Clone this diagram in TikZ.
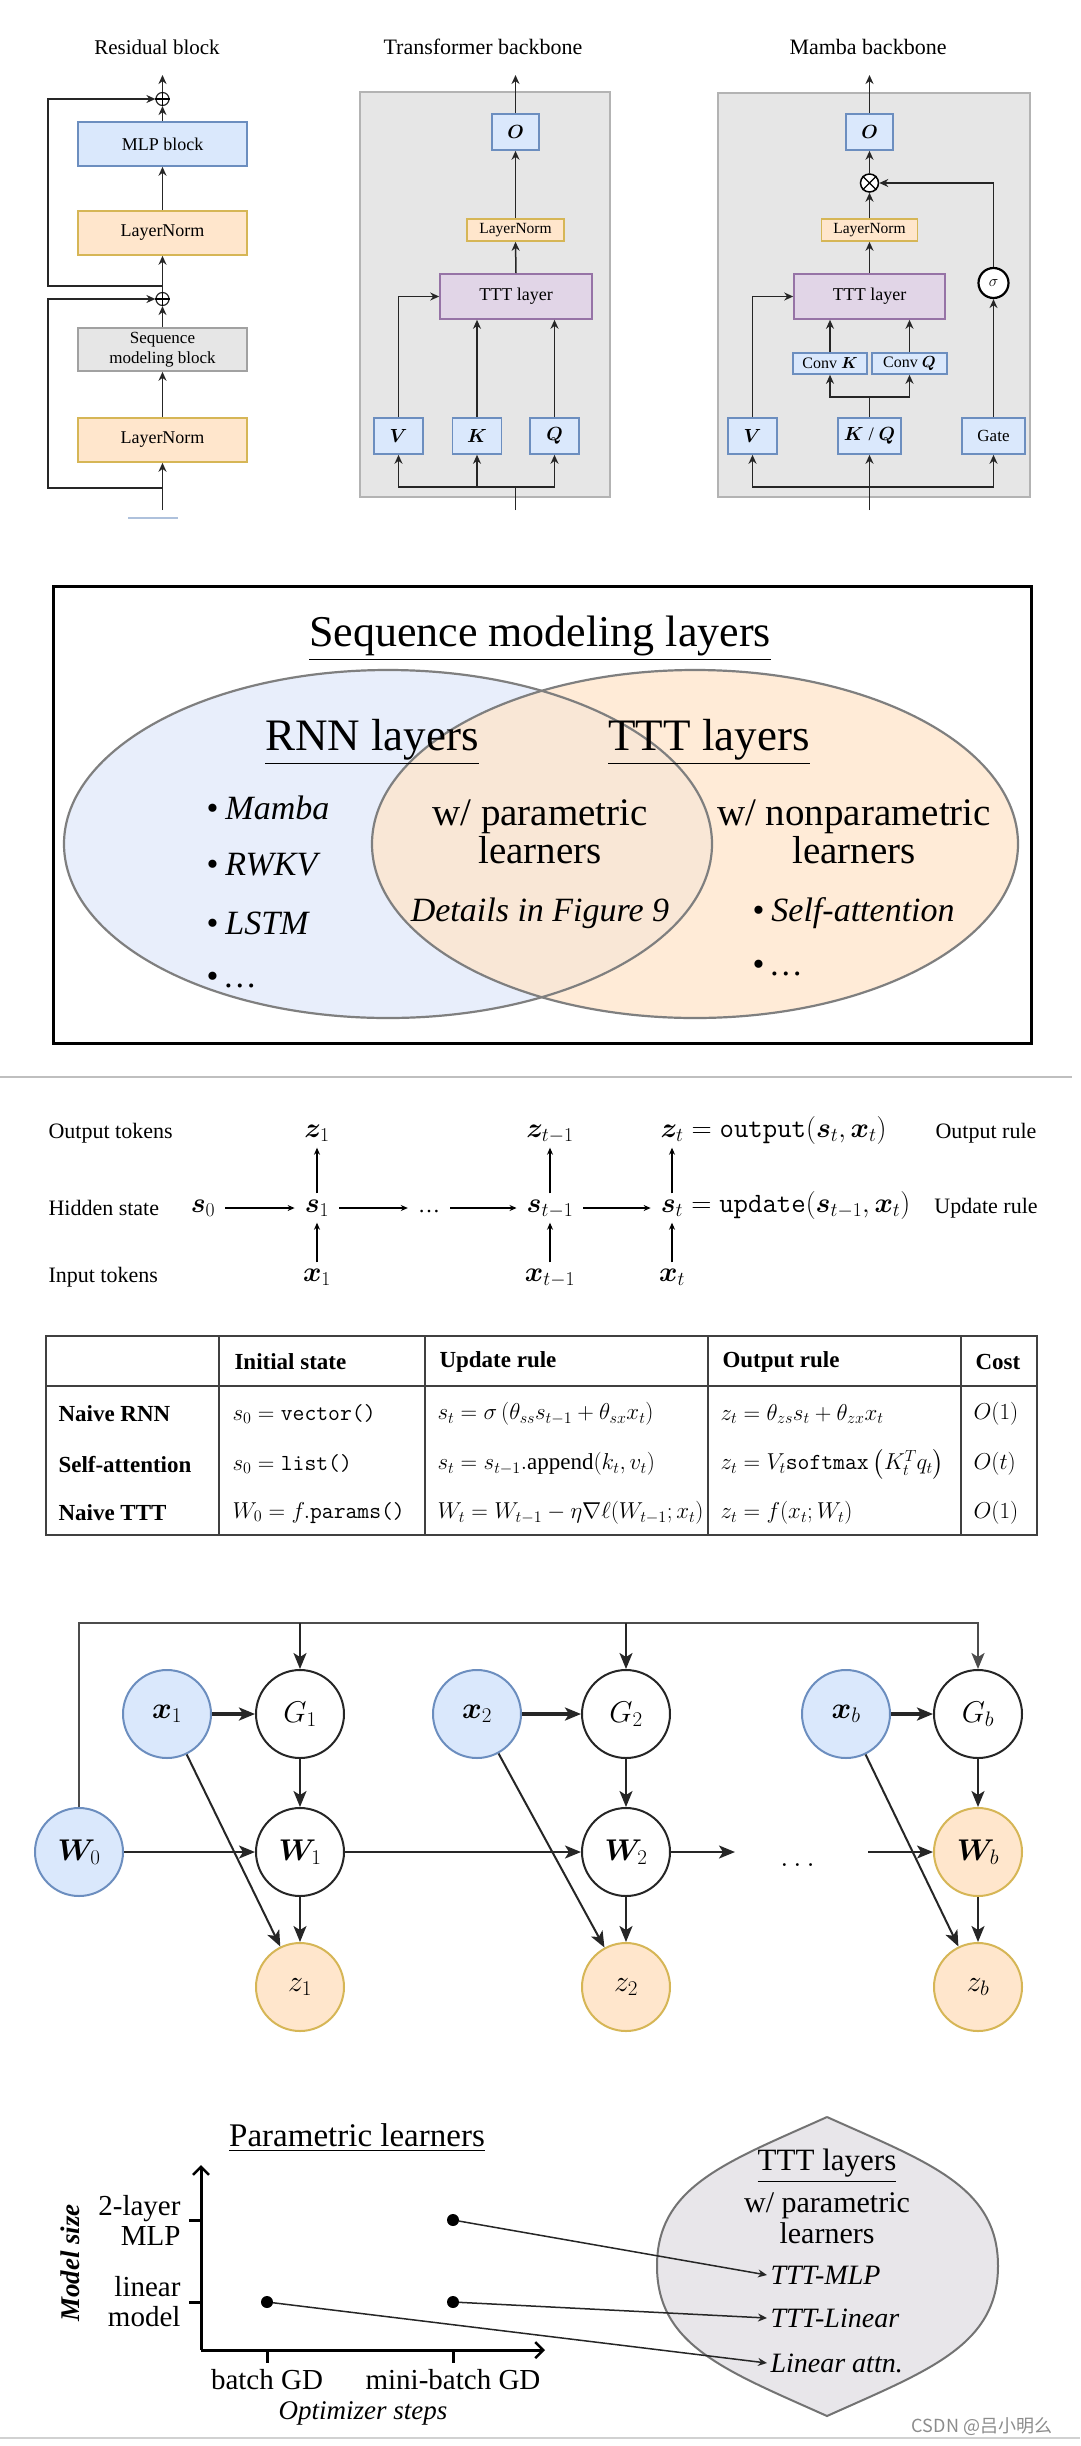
\RequirePackage{fix-cm}
\documentclass[tikz,border=0pt]{standalone}
\usepackage{amsmath}
\usepackage{bm}
\usepackage{fontspec}
\setmainfont{Liberation Serif}
\newfontfamily\cjkfont{Noto Sans CJK SC}
\usetikzlibrary{arrows.meta,calc}
\definecolor{bfill}{HTML}{DAE8FC}
\definecolor{bdraw}{HTML}{6C8EBF}
\definecolor{ofill}{HTML}{FFE6CC}
\definecolor{odraw}{HTML}{D6B656}
\definecolor{pfill}{HTML}{E1D5E7}
\definecolor{pdraw}{HTML}{9673A6}
\definecolor{gfill}{HTML}{E6E6E6}
\definecolor{gdraw}{HTML}{B3B3B3}
\definecolor{lensfill}{HTML}{E8E6EA}
\definecolor{vblue}{HTML}{E8EEFB}
\definecolor{vline}{HTML}{7F7F7F}
\newcommand{\fsz}[2]{\fontsize{#1}{#2}\selectfont}
\tikzset{
  myln/.style={line width=1.5pt, draw=black!85},
  myar/.style={myln, -{Stealth[length=9pt,width=8pt]}},
  mybox/.style={draw, line width=1.6pt, inner sep=0pt, align=center},
  myblue/.style={mybox, fill=bfill, draw=bdraw},
  myorange/.style={mybox, fill=ofill, draw=odraw},
  mygray/.style={mybox, fill=gfill, draw=gdraw!90!black},
  mypurple/.style={mybox, fill=pfill, draw=pdraw},
  panel/.style={draw=gdraw, fill=gfill, line width=1.5pt, inner sep=0pt},
  vtxt/.style={font=\fsz{39}{38}, align=center},
  sar/.style={line width=1.2pt, draw=black, -{Stealth[length=7pt,width=6pt]}},
  mth/.style={font=\fsz{28}{32}, text height=14pt, text depth=5pt, inner xsep=10pt, inner ysep=5pt},
  lbl/.style={font=\fsz{22}{26}},
  tabline/.style={line width=1.5pt, draw=black!75},
  thd/.style={font=\fsz{23}{27}\bfseries, anchor=west},
  tcell/.style={font=\fsz{23}{27}, anchor=west},
  gnode/.style={circle, draw=black!85, fill=white, line width=2pt, minimum size=88pt, inner sep=0pt, font=\fsz{30}{36}},
  gblue/.style={gnode, fill=bfill, draw=bdraw},
  gorange/.style={gnode, fill=ofill, draw=odraw},
  gar/.style={line width=2pt, draw=black!85, -{Stealth[length=16pt,width=13pt,inset=4pt]}},
  dotnode/.style={circle, fill=black, inner sep=0pt, minimum size=12pt},
  plar/.style={line width=1.5pt, draw=black!85, -{Stealth[length=9pt,width=8pt]}},
  axar/.style={line width=3pt, draw=black, -{Straight Barb[length=8pt,width=16pt,line width=2.5pt]}},
  btxt/.style={font=\fsz{29}{30}},
}
\begin{document}
\begin{tikzpicture}[x=1pt,y=-1pt]
\useasboundingbox (0,0) rectangle (1080,2446);
\fill[white] (0,0) rectangle (1080,2446);

%%%%%%%%%%%%%%%% Residual block
\node[font=\fsz{21}{25}] (rtitle) at (157,47) {Residual block};
\node[myblue, minimum width=169pt, minimum height=44pt, font=\fsz{18}{21}] (mlp) at (162.5,144) {MLP block};
\node[myorange, minimum width=169pt, minimum height=44pt, font=\fsz{18}{21}] (ln1) at (162.5,233) {LayerNorm};
\node[mygray, minimum width=169pt, minimum height=43pt, font=\fsz{17}{20}] (smb) at (162.5,349.5) {Sequence\\modeling block};
\node[myorange, minimum width=169pt, minimum height=44pt, font=\fsz{18}{21}] (ln2) at (162.5,440) {LayerNorm};
\node[circle, draw=black!85, line width=1.2pt, minimum size=13pt, inner sep=0pt] (p1) at (162.5,99) {};
\draw[line width=1.2pt] (p1.north) -- (p1.south) (p1.west) -- (p1.east);
\node[circle, draw=black!85, line width=1.2pt, minimum size=13pt, inner sep=0pt] (p2) at (162.5,299) {};
\draw[line width=1.2pt] (p2.north) -- (p2.south) (p2.west) -- (p2.east);
\coordinate (rtop) at (162.5,75);
\coordinate (rin) at (162.5,510);
\coordinate (rj1) at (162.5,286);
\coordinate (rj2) at (162.5,488);
\draw[myar] (p1.north) -- (rtop);
\draw[myar] (mlp.north) -- (p1.south);
\draw[myar] (ln1.north) -- (mlp.south);
\draw[myar] (p2.north) -- (ln1.south);
\draw[myar] (smb.north) -- (p2.south);
\draw[myar] (ln2.north) -- (smb.south);
\draw[myar] (rin) -- (ln2.south);
\draw[myar] (rj1) -- ++(-114.5,0) |- (p1.west);
\draw[myar] (rj2) -- ++(-114.5,0) |- (p2.west);
\draw[bdraw!55, line width=2pt] (128,518) -- (178,518);

%%%%%%%%%%%%%%%% Transformer backbone
\node[font=\fsz{22}{26}] (ttitle) at (483,47) {Transformer backbone};
\node[panel, minimum width=250pt, minimum height=405pt] (tbg) at (485,294.5) {};
\node[myblue, minimum width=47pt, minimum height=36pt, font=\fsz{19}{22}] (tO) at (515.5,132) {$\bm{O}$};
\node[myorange, minimum width=97pt, minimum height=22pt, font=\fsz{15.5}{18}] (tln) at (515.5,230) {LayerNorm};
\node[mypurple, minimum width=152pt, minimum height=45pt, font=\fsz{18}{21}] (tttt) at (516,296.5) {TTT layer};
\node[myblue, minimum width=49pt, minimum height=36pt, font=\fsz{19}{22}] (tV) at (398.5,436) {$\bm{V}$};
\node[myblue, minimum width=49pt, minimum height=36pt, font=\fsz{19}{22}] (tK) at (477,436) {$\bm{K}$};
\node[myblue, minimum width=49pt, minimum height=36pt, font=\fsz{19}{22}] (tQ) at (554.5,436) {$\bm{Q}$};
\coordinate (ttop) at (515.5,75);
\coordinate (tin) at (515.5,510);
\coordinate (tbus) at (515.5,487);
\draw[myar] (tO.north) -- (ttop);
\draw[myar] (tln.north) -- (tO.south);
\draw[myar] (tttt.north) -- (tln.south);
\draw[myar] (tV.north) |- (tttt.west);
\draw[myar] (tK.north) -- (tK.north |- tttt.south);
\draw[myar] (tQ.north) -- (tQ.north |- tttt.south);
\draw[myln] (tin) -- (tbus);
\draw[myar] (tbus) -| (tV.south);
\draw[myar] (tbus) -| (tQ.south);
\draw[myar] (tK.south |- tbus) -- (tK.south);

%%%%%%%%%%%%%%%% Mamba backbone
\node[font=\fsz{22}{26}] (mtitle) at (868,47) {Mamba backbone};
\node[panel, minimum width=312pt, minimum height=404pt] (mbg) at (874,295) {};
\node[myblue, minimum width=47pt, minimum height=36pt, font=\fsz{19}{22}] (mO) at (869.5,132) {$\bm{O}$};
\node[circle, draw=black, fill=white, line width=1.5pt, minimum size=18pt, inner sep=0pt] (mot) at (869.5,183) {};
\draw[line width=1.3pt] (mot.north west) -- (mot.south east) (mot.north east) -- (mot.south west);
\node[myorange, minimum width=96pt, minimum height=22pt, font=\fsz{15.5}{18}] (mln) at (869.5,230) {LayerNorm};
\node[mypurple, minimum width=151pt, minimum height=45pt, font=\fsz{18}{21}] (mttt) at (869.5,296.5) {TTT layer};
\node[circle, draw=black, fill=white, line width=2.2pt, minimum size=30pt, inner sep=0pt, font=\fsz{16}{18}] (msig) at (993.5,283) {$\sigma$};
\node[myblue, minimum width=74pt, minimum height=21pt, font=\fsz{16}{18}] (mck) at (830,363.5) {Conv $\bm{K}$};
\node[myblue, minimum width=75pt, minimum height=21pt, font=\fsz{16}{18}] (mcq) at (909.5,363.5) {Conv $\bm{Q}$};
\node[myblue, minimum width=49pt, minimum height=36pt, font=\fsz{19}{22}] (mV) at (752.5,436) {$\bm{V}$};
\node[myblue, minimum width=63pt, minimum height=36pt, font=\fsz{19}{22}] (mKQ) at (869.5,436) {$\bm{K}$ / $\bm{Q}$};
\node[myblue, minimum width=63pt, minimum height=36pt, font=\fsz{17}{20}] (mgate) at (993.5,436) {Gate};
\coordinate (mtop) at (869.5,75);
\coordinate (min) at (869.5,510);
\coordinate (mbus) at (869.5,487);
\coordinate (mkqs) at (869.5,397);
\draw[myar] (mO.north) -- (mtop);
\draw[myar] (mot.north) -- (mO.south);
\draw[myar] (mln.north) -- (mot.south);
\draw[myar] (mttt.north) -- (mln.south);
\draw[myar] (msig.north) |- (mot.east);
\draw[myar] (mgate.north) -- (msig.south);
\draw[myar] (mV.north) |- (mttt.west);
\draw[myar] (mck.north) -- (mck.north |- mttt.south);
\draw[myar] (mcq.north) -- (mcq.north |- mttt.south);
\draw[myln] (mKQ.north) -- (mkqs);
\draw[myar] (mkqs) -| (mck.south);
\draw[myar] (mkqs) -| (mcq.south);
\draw[myar] (min) -- (mKQ.south);
\draw[myar] (mbus) -| (mV.south);
\draw[myar] (mbus) -| (mgate.south);

%%%%%%%%%%%%%%%% Venn diagram
\node[draw=black, line width=3pt, minimum width=978pt, minimum height=457pt, inner sep=0pt] (vbox) at (542,814.5) {};
\fill[vblue] (388,844) ellipse [x radius=324pt, y radius=174pt];
\fill[ofill, fill opacity=0.78] (695,844) ellipse [x radius=323pt, y radius=174pt];
\draw[vline, line width=2.2pt] (388,844) ellipse [x radius=324pt, y radius=174pt];
\draw[vline, line width=2.2pt] (695,844) ellipse [x radius=323pt, y radius=174pt];
\node[font=\fsz{44}{50}] (vtitle) at (540,638) {\underline{Sequence modeling layers}};
\node[font=\fsz{45}{50}] (vrnn) at (372,742) {\underline{RNN layers}};
\node[font=\fsz{45}{50}] (vttt) at (709,742) {\underline{TTT layers}};
\node[font=\fsz{34}{40}, anchor=west] (vb1) at (203,808) {\textbullet\hspace{7pt}\textit{Mamba}};
\node[font=\fsz{34}{40}, anchor=west] (vb2) at (203,865) {\textbullet\hspace{7pt}\textit{RWKV}};
\node[font=\fsz{34}{40}, anchor=west] (vb3) at (203,923) {\textbullet\hspace{7pt}\textit{LSTM}};
\node[font=\fsz{34}{40}, anchor=west] (vb4) at (203,980) {\textbullet\hspace{7pt}\textit{\dots}};
\node[vtxt] (vpar) at (540,832) {w/ parametric\\learners};
\node[font=\fsz{34}{40}] (vdet) at (540,913) {\textit{Details in Figure 9}};
\node[vtxt] (vnon) at (854,832) {w/ nonparametric\\learners};
\node[font=\fsz{34}{40}, anchor=west] (vsa) at (749,913) {\textbullet\hspace{7pt}\textit{Self-attention}};
\node[font=\fsz{34}{40}, anchor=west] (vsd) at (749,968) {\textbullet\hspace{7pt}\textit{\dots}};

\draw[black!25, line width=1.5pt] (0,1077) -- (1072,1077);

%%%%%%%%%%%%%%%% Hidden state recurrence
\node[lbl, anchor=west] (lout) at (45,1133) {Output tokens};
\node[lbl, anchor=west] (lhid) at (45,1208) {Hidden state};
\node[lbl, anchor=west] (linp) at (45,1277) {Input tokens};
\node[lbl] (rout) at (986,1133) {Output rule};
\node[lbl] (rupd) at (986,1208) {Update rule};
\node[mth] (z1) at (317,1133) {$\bm{z}_1$};
\node[mth] (zt1) at (550,1133) {$\bm{z}_{t-1}$};
\node[mth, inner xsep=0pt] (zt) at (672,1133) {$\bm{z}_t$};
\node[mth, inner xsep=0pt, anchor=base west] (ztr) at (zt.base east) {$\;=\texttt{output}(\bm{s}_t,\bm{x}_t)$};
\node[mth] (s0) at (203,1208) {$\bm{s}_0$};
\node[mth] (s1) at (317,1208) {$\bm{s}_1$};
\node[mth, font=\fsz{22}{26}] (sd) at (429,1208) {\dots};
\node[mth] (st1) at (550,1208) {$\bm{s}_{t-1}$};
\node[mth, inner xsep=0pt] (st) at (672,1208) {$\bm{s}_t$};
\node[mth, inner xsep=0pt, anchor=base west] (str) at (st.base east) {$\;=\texttt{update}(\bm{s}_{t-1},\bm{x}_t)$};
\node[mth] (x1) at (317,1277) {$\bm{x}_1$};
\node[mth] (xt1) at (550,1277) {$\bm{x}_{t-1}$};
\node[mth, inner xsep=0pt] (xt) at (672,1277) {$\bm{x}_t$};
\draw[sar] (s0.east) -- (s1.west);
\draw[sar] (s1.east) -- (sd.west);
\draw[sar] (sd.east) -- (st1.west);
\draw[sar] (st1.east) -- ([xshift=-10pt]st.west);
\draw[sar] (x1.north) -- (s1.south);
\draw[sar] (xt1.north) -- (st1.south);
\draw[sar] (xt.north) -- (st.south);
\draw[sar] (s1.north) -- (z1.south);
\draw[sar] (st1.north) -- (zt1.south);
\draw[sar] (st.north) -- (zt.south);

%%%%%%%%%%%%%%%% Table
\node[draw=black!75, line width=1.8pt, minimum width=991pt, minimum height=199pt, inner sep=0pt] (tab) at (541.5,1435.5) {};
\draw[tabline] (46,1386) -- (1037,1386);
\foreach \cx in {219,425,708,961} {\draw[tabline] (\cx,1336) -- (\cx,1535);}
\node[thd] (h1) at (231,1362) {Initial state};
\node[thd] (h2) at (436,1362) {Update rule};
\node[thd] (h3) at (719,1362) {Output rule};
\node[thd] (h4) at (972,1362) {Cost};
\node[thd] (r1) at (55,1414) {Naive RNN};
\node[thd] (r2) at (55,1464) {Self-attention};
\node[thd] (r3) at (55,1513) {Naive TTT};
\node[tcell] (c11) at (229,1414) {$s_0 = \texttt{vector()}$};
\node[tcell] (c12) at (434,1414) {$s_t = \sigma\,(\theta_{ss}s_{t-1} + \theta_{sx}x_t)$};
\node[tcell] (c13) at (717,1414) {$z_t = \theta_{zs}s_t + \theta_{zx}x_t$};
\node[tcell] (c14) at (970,1414) {$O(1)$};
\node[tcell] (c21) at (229,1464) {$s_0 = \texttt{list()}$};
\node[tcell] (c22) at (434,1464) {$s_t = s_{t-1}.\mathrm{append}(k_t, v_t)$};
\node[tcell] (c23) at (717,1464) {$z_t = V_t\texttt{softmax}\left(K_t^T q_t\right)$};
\node[tcell] (c24) at (970,1464) {$O(t)$};
\node[tcell] (c31) at (229,1513) {$W_0 = f.\texttt{params()}$};
\node[tcell] (c32) at (434,1513) {$W_t = W_{t-1} - \eta\nabla\ell(W_{t-1};x_t)$};
\node[tcell] (c33) at (717,1513) {$z_t = f(x_t;W_t)$};
\node[tcell] (c34) at (970,1513) {$O(1)$};

%%%%%%%%%%%%%%%% Graph
\node[gblue] (W0) at (79,1852) {$\bm{W}_0$};
\node[gblue] (x1g) at (167,1714) {$\bm{x}_1$};
\node[gnode] (G1) at (300,1714) {$G_1$};
\node[gnode] (W1) at (300,1852) {$\bm{W}_1$};
\node[gorange] (zz1) at (300,1987) {$z_1$};
\node[gblue] (x2g) at (477,1714) {$\bm{x}_2$};
\node[gnode] (G2) at (626,1714) {$G_2$};
\node[gnode] (W2) at (626,1852) {$\bm{W}_2$};
\node[gorange] (zz2) at (626,1987) {$z_2$};
\node[gblue] (xbg) at (846,1714) {$\bm{x}_b$};
\node[gnode] (Gb) at (978,1714) {$G_b$};
\node[gorange] (Wb) at (978,1852) {$\bm{W}_b$};
\node[gorange] (zzb) at (978,1987) {$z_b$};
\node[font=\fsz{30}{36}] (gdots) at (800,1865) {$\dots$};
\coordinate (gt0) at (79,1623);
\coordinate (gtb) at (978,1623);
\coordinate (gm1) at (735,1852);
\coordinate (gm2) at (868,1852);
\draw[gar, draw=black!70, line width=2.5pt] (W0.north) -- (gt0) -- (gtb) -- (Gb.north);
\draw[gar] (G1.north |- gt0) -- (G1.north);
\draw[gar] (G2.north |- gt0) -- (G2.north);
\draw[gar, line width=3.5pt] (x1g) -- (G1);
\draw[gar, line width=3.5pt] (x2g) -- (G2);
\draw[gar, line width=3.5pt] (xbg) -- (Gb);
\draw[gar] (W0) -- (W1);
\draw[gar] (W1) -- (W2);
\draw[gar] (W2) -- (gm1);
\draw[gar] (gm2) -- (Wb);
\draw[gar] (G1) -- (W1);
\draw[gar] (G2) -- (W2);
\draw[gar] (Gb) -- (Wb);
\draw[gar] (W1) -- (zz1);
\draw[gar] (W2) -- (zz2);
\draw[gar] (Wb) -- (zzb);
\draw[gar] (x1g) -- (zz1);
\draw[gar] (x2g) -- (zz2);
\draw[gar] (xbg) -- (zzb);

%%%%%%%%%%%%%%%% Parametric learners
\draw[fill=lensfill, draw=black!55, line width=2pt] (827,2117) .. controls (927,2162) and (998,2186) .. (998,2266) .. controls (998,2346) and (927,2371) .. (827,2416) .. controls (727,2371) and (657,2346) .. (657,2266) .. controls (657,2186) and (727,2162) .. (827,2117);
\node[font=\fsz{33}{38}] (ptitle) at (357,2138) {\underline{Parametric learners}};
\coordinate (org) at (201,2350);
\coordinate (ytop) at (201,2165);
\coordinate (xend) at (545,2350);
\draw[axar] (org) -- (ytop);
\draw[axar] (org) -- (xend);
\draw[line width=3pt] (189,2220) -- (201,2220);
\draw[line width=3pt] (189,2302) -- (201,2302);
\draw[line width=3pt] (267,2350) -- (267,2363);
\draw[line width=3pt] (453,2350) -- (453,2363);
\node[btxt, anchor=east, align=right] (l2mlp) at (184,2220) {2-layer\\MLP};
\node[btxt, anchor=east, align=right] (llin) at (184,2302) {linear\\model};
\node[font=\fsz{27}{30}\bfseries\itshape, rotate=90] (lms) at (70,2263) {Model size};
\node[btxt] (lbgd) at (267,2380) {batch GD};
\node[btxt] (lmgd) at (453,2380) {mini-batch GD};
\node[font=\fsz{27}{30}\itshape] (lopt) at (363,2413) {Optimizer steps};
\node[dotnode] (d1) at (267,2302) {};
\node[dotnode] (d2) at (453,2220) {};
\node[dotnode] (d3) at (453,2302) {};
\node[font=\fsz{31}{36}] (lttt) at (827,2166) {\underline{TTT layers}};
\node[font=\fsz{30}{31}, align=center] (lpar) at (827,2218) {w/ parametric\\learners};
\node[font=\fsz{28}{32}\itshape, anchor=west] (tmlp) at (767,2275) {TTT-MLP};
\node[font=\fsz{28}{32}\itshape, anchor=west] (tlin) at (767,2318) {TTT-Linear};
\node[font=\fsz{28}{32}\itshape, anchor=west] (tatt) at (767,2363) {Linear attn.};
\draw[plar] (d2) -- (tmlp.west);
\draw[plar] (d3) -- (tlin.west);
\draw[plar] (d1) -- (tatt.west);

\node[font=\cjkfont\fsz{18}{20}, text=black!45] (wm) at (982,2427) {CSDN @吕小明么};
\draw[black!18, line width=2pt] (0,2438) -- (1080,2438);
\end{tikzpicture}
\end{document}
